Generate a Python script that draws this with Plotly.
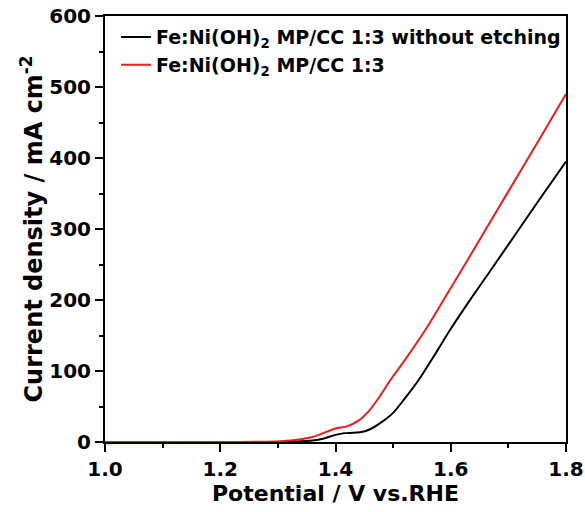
import plotly.graph_objects as go

# Potential (V vs. RHE) and current density (mA cm^-2)
v_red = [1.00, 1.20, 1.28, 1.31, 1.34, 1.36, 1.38, 1.40, 1.42, 1.44, 1.455, 1.475,
         1.495, 1.52, 1.556, 1.60, 1.629, 1.70, 1.75, 1.80]
j_red = [0, 0, 0.5, 1.5, 4, 7, 13, 19, 22, 30, 41, 62,
         87, 115, 158, 217, 256, 353, 421, 490]

v_black = [1.00, 1.25, 1.33, 1.36, 1.38, 1.40, 1.415, 1.43, 1.445, 1.46, 1.48, 1.50,
           1.52, 1.544, 1.57, 1.599, 1.63, 1.66, 1.70, 1.75, 1.80]
j_black = [0, 0, 0.5, 2, 5, 10, 12.5, 13, 14, 18, 28, 41,
           61, 87, 120, 158, 196, 231, 278, 337, 395]

name_black = "Fe:Ni(OH)<sub>2</sub> MP/CC 1:3 without etching"
name_red = "Fe:Ni(OH)<sub>2</sub> MP/CC 1:3"

x_ticks = [1.0, 1.2, 1.4, 1.6, 1.8]
y_ticks = [0, 100, 200, 300, 400, 500, 600]

fig = go.Figure()
fig.add_trace(go.Scatter(x=v_black, y=j_black, mode="lines", name=name_black,
                         line=dict(color="black", width=2, shape="spline", smoothing=0.6)))
fig.add_trace(go.Scatter(x=v_red, y=j_red, mode="lines", name=name_red,
                         line=dict(color="#ee1c1c", width=2, shape="spline", smoothing=0.6)))

font_family = "DejaVu Sans, sans-serif"
axis_common = dict(
    showline=True, linecolor="black", linewidth=2, mirror=True,
    ticks="outside", ticklen=8, tickwidth=2, tickcolor="black",
    showgrid=False, zeroline=False,
    tickfont=dict(family=font_family, size=20, color="black", weight="bold"),
)

fig.update_xaxes(
    range=[1.0, 1.8], tickvals=x_ticks, ticktext=[f"{t:.1f}" for t in x_ticks],
    minor=dict(dtick=0.1, tick0=1.0, ticks="outside", ticklen=4, tickwidth=2, tickcolor="black"),
    title=dict(text="<b>Potential / V vs.RHE</b>", font=dict(family=font_family, size=22, color="black"),
               standoff=0),
    automargin="bottom",
    **axis_common,
)
fig.update_yaxes(
    range=[0, 600], tickvals=y_ticks,
    minor=dict(dtick=50, tick0=0, ticks="outside", ticklen=4, tickwidth=2, tickcolor="black"),
    title=dict(text="<b>Current density / mA cm<sup>-2</sup></b>",
               font=dict(family=font_family, size=24, color="black"), standoff=0),
    automargin="left",
    **axis_common,
)

fig.update_layout(
    width=585, height=512,
    margin=dict(l=105, r=19, t=16, b=70),
    paper_bgcolor="white", plot_bgcolor="white",
    showlegend=True,
    legend=dict(x=1.0, y=0.995, xanchor="right", yanchor="top",
                bgcolor="rgba(0,0,0,0)", borderwidth=0,
                font=dict(family=font_family, size=19, color="black", weight="bold"),
                tracegroupgap=0, itemwidth=30),
)

fig.write_html("out.html", config={"displayModeBar": False},
               post_script="document.body.style.margin='0px';")
